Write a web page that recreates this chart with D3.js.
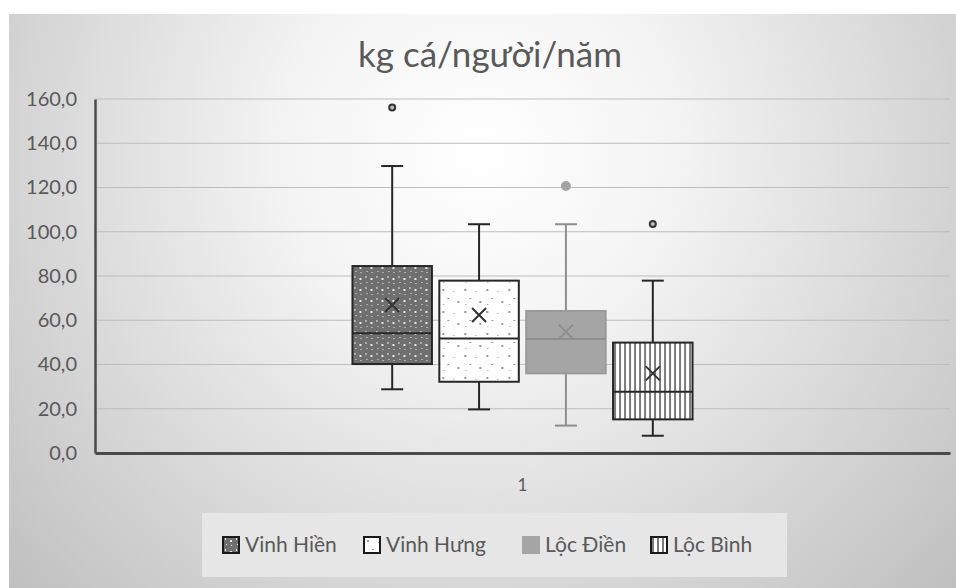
<!DOCTYPE html>
<html>
<head>
<meta charset="utf-8">
<script src="https://cdn.jsdelivr.net/npm/d3@7"></script>
<style>
  html, body { margin: 0; padding: 0; background: #ffffff; }
  svg { display: block; }
  text { font-family: Lato, "Noto Sans", sans-serif; }
</style>
</head>
<body>
<svg id="chart" width="956" height="588"></svg>
<script>
// Fish consumption (kg per person per year) by commune, box-and-whisker summary
const categories = ["1"];
const series = ["Vinh Hiền", "Vinh Hưng", "Lộc Điền", "Lộc Bình"];
const whiskerLow  = [28.8, 19.7, 12.4, 7.8];
const q1          = [40.2, 32.2, 36.0, 15.2];
const median      = [54.1, 51.7, 51.5, 27.7];
const q3          = [84.5, 77.9, 64.2, 49.9];
const whiskerHigh = [129.7, 103.4, 103.4, 77.9];
const mean        = [66.9, 62.4, 54.8, 36.0];
const outliers    = [[156.2], [], [120.7], [103.5]];
const yTicks = [0, 20, 40, 60, 80, 100, 120, 140, 160];
const title = "kg cá/người/năm";

const W = 956, H = 588;
const plot = { left: 95, right: 950, top: 99, bottom: 453 };

const svg = d3.select("#chart");
const defs = svg.append("defs");

// Panel background: soft radial shading
const grad = defs.append("radialGradient")
  .attr("id", "bg").attr("gradientUnits", "userSpaceOnUse")
  .attr("cx", 480).attr("cy", 150).attr("r", 640);
grad.append("stop").attr("offset", 0).attr("stop-color", "#ffffff");
grad.append("stop").attr("offset", 0.3).attr("stop-color", "#f4f4f4");
grad.append("stop").attr("offset", 1).attr("stop-color", "#c0c0c0");

// Fill patterns per series
const pDark = defs.append("pattern").attr("id", "pat0")
  .attr("patternUnits", "userSpaceOnUse").attr("width", 11).attr("height", 11);
pDark.append("rect").attr("width", 11).attr("height", 11).attr("fill", "#6f6f6f");
[[2, 1, 1, 2], [7, 3, 2, 2], [3, 7, 1, 1], [8, 8, 1, 1]].forEach(d =>
  pDark.append("rect").attr("x", d[0]).attr("y", d[1]).attr("width", d[2]).attr("height", d[3]).attr("fill", "#e8e8e8"));

const pLight = defs.append("pattern").attr("id", "pat1")
  .attr("patternUnits", "userSpaceOnUse").attr("width", 22).attr("height", 22);
pLight.append("rect").attr("width", 22).attr("height", 22).attr("fill", "#ffffff");
[[3, 3, 2, 2], [14, 5, 1, 1], [8, 12, 2, 1], [18, 15, 2, 2], [4, 18, 1, 1]].forEach(d =>
  pLight.append("rect").attr("x", d[0]).attr("y", d[1]).attr("width", d[2]).attr("height", d[3]).attr("fill", "#9a9a9a"));

const pStripe = defs.append("pattern").attr("id", "pat3")
  .attr("patternUnits", "userSpaceOnUse").attr("width", 5).attr("height", 10);
pStripe.append("rect").attr("width", 5).attr("height", 10).attr("fill", "#ffffff");
pStripe.append("rect").attr("x", 1).attr("width", 2).attr("height", 10).attr("fill", "#7a7a7a");

const fills = ["url(#pat0)", "url(#pat1)", "#a5a5a5", "url(#pat3)"];
const strokes = ["#262626", "#262626", "#9a9a9a", "#262626"];
const lineColors = ["#262626", "#262626", "#8f8f8f", "#262626"];

// Background panel
svg.append("rect").attr("x", 9).attr("y", 14).attr("width", W - 9).attr("height", H - 14)
  .attr("fill", "url(#bg)");

// Scales
const y = d3.scaleLinear().domain([0, 160]).range([plot.bottom, plot.top]);
const x0 = d3.scaleBand().domain(categories).range([plot.left, plot.right])
  .paddingInner(0).paddingOuter(0.757);
const x1 = d3.scaleBand().domain(series).range([0, x0.bandwidth()])
  .paddingInner(0.085).paddingOuter(0);

// Gridlines
svg.append("g")
  .selectAll("line").data(yTicks.filter(t => t > 0)).join("line")
  .attr("x1", plot.left).attr("x2", plot.right)
  .attr("y1", d => y(d)).attr("y2", d => y(d))
  .attr("stroke", "#bdbdbd").attr("stroke-width", 1.2);

// Y axis labels
const fmt = v => d3.format(".1f")(v).replace(".", ",");
const yAxis = d3.axisLeft(y).tickValues(yTicks).tickFormat(fmt).tickSize(0).tickPadding(18);
const gy = svg.append("g").attr("transform", `translate(${plot.left},0)`).call(yAxis);
gy.select(".domain").attr("stroke", "#4a4a4a").attr("stroke-width", 2.5);
gy.selectAll("text").attr("font-size", 20).attr("fill", "#595959")
  .attr("font-family", "Lato, 'Noto Sans', sans-serif");

// X axis
const xAxis = d3.axisBottom(x0).tickSize(0).tickPadding(26);
const gx = svg.append("g").attr("transform", `translate(0,${plot.bottom})`).call(xAxis);
gx.select(".domain").attr("stroke", "#4a4a4a").attr("stroke-width", 3);
gx.selectAll("text").attr("font-size", 17).attr("fill", "#595959")
  .attr("font-family", "Lato, 'Noto Sans', sans-serif");

// Boxes
const data = series.map((s, i) => ({
  name: s, i,
  lo: whiskerLow[i], q1: q1[i], med: median[i], q3: q3[i], hi: whiskerHigh[i],
  mean: mean[i], out: outliers[i]
}));

const g = svg.append("g").attr("transform", `translate(${x0(categories[0])},0)`);
const bw = x1.bandwidth();
const cap = 11;

const box = g.selectAll("g.box").data(data).join("g").attr("class", "box")
  .attr("transform", d => `translate(${x1(d.name)},0)`);

// whiskers
box.append("line").attr("x1", bw / 2).attr("x2", bw / 2)
  .attr("y1", d => y(d.hi)).attr("y2", d => y(d.q3))
  .attr("stroke", d => lineColors[d.i]).attr("stroke-width", 2);
box.append("line").attr("x1", bw / 2).attr("x2", bw / 2)
  .attr("y1", d => y(d.q1)).attr("y2", d => y(d.lo))
  .attr("stroke", d => lineColors[d.i]).attr("stroke-width", 2);
box.append("line").attr("x1", bw / 2 - cap).attr("x2", bw / 2 + cap)
  .attr("y1", d => y(d.hi)).attr("y2", d => y(d.hi))
  .attr("stroke", d => lineColors[d.i]).attr("stroke-width", 2);
box.append("line").attr("x1", bw / 2 - cap).attr("x2", bw / 2 + cap)
  .attr("y1", d => y(d.lo)).attr("y2", d => y(d.lo))
  .attr("stroke", d => lineColors[d.i]).attr("stroke-width", 2);

// box body
box.append("rect")
  .attr("x", 0).attr("width", bw)
  .attr("y", d => y(d.q3)).attr("height", d => y(d.q1) - y(d.q3))
  .attr("fill", d => fills[d.i]).attr("stroke", d => strokes[d.i]).attr("stroke-width", 2);

// median
box.append("line").attr("x1", 0).attr("x2", bw)
  .attr("y1", d => y(d.med)).attr("y2", d => y(d.med))
  .attr("stroke", d => lineColors[d.i]).attr("stroke-width", 2);

// mean marker
const m = 7;
box.append("path")
  .attr("d", d => `M${bw / 2 - m},${y(d.mean) - m}L${bw / 2 + m},${y(d.mean) + m}M${bw / 2 - m},${y(d.mean) + m}L${bw / 2 + m},${y(d.mean) - m}`)
  .attr("stroke", d => d.i === 2 ? "#8f8f8f" : "#333333").attr("stroke-width", 2).attr("fill", "none");

// outliers
box.selectAll("circle").data(d => d.out.map(v => ({ v, i: d.i }))).join("circle")
  .attr("cx", bw / 2).attr("cy", d => y(d.v)).attr("r", d => d.i === 2 ? 4 : 3)
  .attr("fill", d => d.i === 2 ? "#a5a5a5" : "#bdbdbd")
  .attr("stroke", d => d.i === 2 ? "#a5a5a5" : "#333333").attr("stroke-width", 2);

// Title
svg.append("text").attr("x", 490).attr("y", 67).attr("text-anchor", "middle")
  .attr("font-size", 35).attr("fill", "#595959").text(title);

// Legend
const legend = svg.append("g");
legend.append("rect").attr("x", 202).attr("y", 513).attr("width", 585).attr("height", 64)
  .attr("fill", "#e6e6e6");
const legX = [223, 364, 523, 651];
const li = legend.selectAll("g.item").data(series).join("g").attr("class", "item")
  .attr("transform", (d, i) => `translate(${legX[i]},537)`);
li.append("rect").attr("width", 16).attr("height", 16)
  .attr("fill", (d, i) => fills[i])
  .attr("stroke", (d, i) => i === 2 ? "#a5a5a5" : "#1a1a1a").attr("stroke-width", 2);
li.append("text").attr("x", 22).attr("y", 15).attr("font-size", 21).attr("fill", "#595959")
  .text(d => d);
</script>
</body>
</html>
